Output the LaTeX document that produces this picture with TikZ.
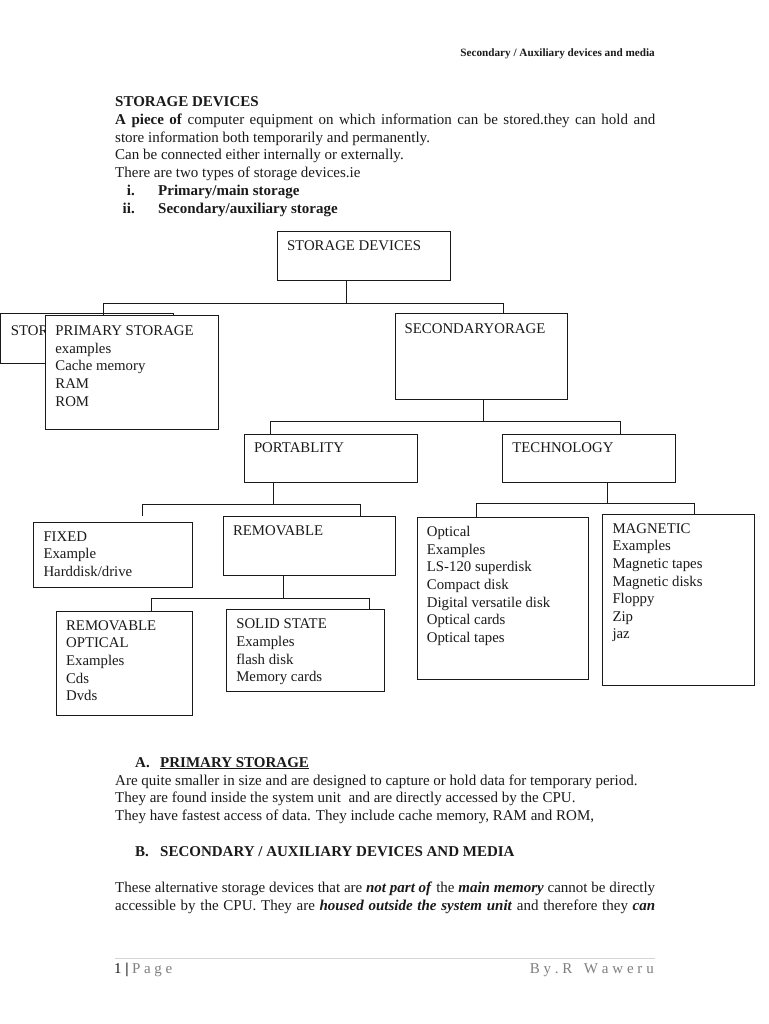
\documentclass[tikz,border=0pt]{standalone}
\usepackage{fontspec}
\setmainfont{Liberation Serif}
\usetikzlibrary{calc}
\definecolor{ink}{HTML}{1A1A1A}
\definecolor{footgray}{HTML}{7F7F7F}
\definecolor{rulegray}{HTML}{D4D4D4}
\newcommand{\Ln}[1]{\hbox{#1}}
\newcommand{\Stack}[1]{\vtop{\baselineskip=17.6pt\lineskiplimit=-20pt #1}}
\begin{document}
\begin{tikzpicture}[x=1pt,y=-1pt,
  box/.style={draw=ink, line width=0.9pt, fill=white, rectangle, inner sep=0pt, outer sep=0pt, anchor=north west},
  lbl/.style={anchor=base west, inner sep=0pt, text=ink, font=\fontsize{14.8}{17.6}\selectfont},
  txt/.style={anchor=base west, inner sep=0pt, text=ink, font=\fontsize{15}{17.6}\selectfont},
  conn/.style={draw=ink, line width=0.9pt}]
\useasboundingbox[fill=white] (0,0) rectangle (768,1024);

% header
\node[anchor=base east, inner sep=0pt, text=ink, font=\fontsize{11.2}{13}\selectfont\bfseries] (hdr) at (655,57) {Secondary / Auxiliary devices and media};

% intro text
\node[txt, font=\fontsize{15}{17.6}\selectfont\bfseries] (t1) at (115,107) {STORAGE DEVICES};
\node[txt] (t2) at (115,125) {\makebox[540pt][s]{\textbf{A piece of} computer equipment on which information can be stored.they can hold and}};
\node[txt] (t3) at (115,142.5) {store information both temporarily and permanently.};
\node[txt] (t4) at (115,160) {Can be connected either internally or externally.};
\node[txt] (t5) at (115,178) {There are two types of storage devices.ie};
\node[txt, anchor=base east] (n1) at (135,196) {\textbf{i.}};
\node[txt] (l1) at (158,196) {\textbf{Primary/main storage}};
\node[txt, anchor=base east] (n2) at (135,213.5) {\textbf{ii.}};
\node[txt] (l2) at (158,213.5) {\textbf{Secondary/auxiliary storage}};

% boxes
\node[box, minimum width=172.7pt, minimum height=48.6pt] (sd) at (277.3,231.7) {};
\node[box, minimum width=173pt, minimum height=49.6pt] (stor) at (0.5,313.7) {};
\node[lbl] (stort) at ([xshift=10.2pt,yshift=-22pt]stor.north west) {STOR};
\node[box, minimum width=172.6pt, minimum height=113.3pt] (prim) at (45.7,315.7) {};
\node[box, minimum width=172.7pt, minimum height=86pt] (sec) at (395,313.3) {};
\node[box, minimum width=173pt, minimum height=48.7pt] (port) at (244.3,434) {};
\node[box, minimum width=172.6pt, minimum height=48.7pt] (tech) at (502.7,434) {};
\node[box, minimum width=159pt, minimum height=65.4pt] (fixed) at (33.3,522.3) {};
\node[box, minimum width=171.7pt, minimum height=59pt] (rem) at (223.3,516.7) {};
\node[box, minimum width=135.6pt, minimum height=103.3pt] (ropt) at (56.7,611.7) {};
\node[box, minimum width=157.3pt, minimum height=81.7pt] (ss) at (226.7,609.3) {};
\node[box, minimum width=171.4pt, minimum height=162pt] (opt) at (417.3,517.3) {};
\node[box, minimum width=151.6pt, minimum height=170.7pt] (mag) at (602.7,514.3) {};

% box labels
\node[lbl] (sdt) at ([xshift=9.5pt,yshift=-19pt]sd.north west) {STORAGE DEVICES};
\node[lbl] (primt) at ([xshift=9.5pt,yshift=-20pt]prim.north west) {\Stack{\Ln{PRIMARY STORAGE}\Ln{examples}\Ln{Cache memory}\Ln{RAM}\Ln{ROM}}};
\node[lbl] (sect) at ([xshift=9.5pt,yshift=-20pt]sec.north west) {SECONDARYORAGE};
\node[lbl] (portt) at ([xshift=9.5pt,yshift=-18pt]port.north west) {PORTABLITY};
\node[lbl] (techt) at ([xshift=9.5pt,yshift=-18pt]tech.north west) {TECHNOLOGY};
\node[lbl] (fixedt) at ([xshift=10pt,yshift=-18.7pt]fixed.north west) {\Stack{\Ln{FIXED}\Ln{Example}\Ln{Harddisk/drive}}};
\node[lbl] (remt) at ([xshift=9.5pt,yshift=-19pt]rem.north west) {REMOVABLE};
\node[lbl] (roptt) at ([xshift=9.2pt,yshift=-18.5pt]ropt.north west) {\Stack{\Ln{REMOVABLE}\Ln{OPTICAL}\Ln{Examples}\Ln{Cds}\Ln{Dvds}}};
\node[lbl] (sst) at ([xshift=9.4pt,yshift=-19.5pt]ss.north west) {\Stack{\Ln{SOLID STATE}\Ln{Examples}\Ln{flash disk}\Ln{Memory cards}}};
\node[lbl] (optt) at ([xshift=9.4pt,yshift=-19.3pt]opt.north west) {\Stack{\Ln{Optical}\Ln{Examples}\Ln{LS-120 superdisk}\Ln{Compact disk}\Ln{Digital versatile disk}\Ln{Optical cards}\Ln{Optical tapes}}};
\node[lbl] (magt) at ([xshift=9.6pt,yshift=-19pt]mag.north west) {\Stack{\Ln{MAGNETIC}\Ln{Examples}\Ln{Magnetic tapes}\Ln{Magnetic disks}\Ln{Floppy}\Ln{Zip}\Ln{jaz}}};

% connectors
\draw[conn] ([xshift=69.4pt]sd.south west) -- ++(0,23) coordinate (j1);
\draw[conn] (j1) -| ([xshift=57.6pt]prim.north west);
\draw[conn] (j1) -| ([xshift=108.3pt]sec.north west);

\draw[conn] ([xshift=88.3pt]sec.south west) -- ++(0,22.4) coordinate (j2);
\draw[conn] (j2) -| ([xshift=26.4pt]port.north west);
\draw[conn] (j2) -| ([xshift=118pt]tech.north west);

\draw[conn] ([xshift=29pt]port.south west) -- ++(0,21.3) coordinate (j3);
\draw[conn] (j3) -| ([xshift=109pt,yshift=6.3pt]fixed.north west);
\draw[conn] (j3) -| ([xshift=136.7pt]rem.north west);

\draw[conn] ([xshift=105pt]tech.south west) -- ++(0,20.6) coordinate (j4);
\draw[conn] (j4) -| ([xshift=58.7pt]opt.north west);
\draw[conn] (j4) -| ([xshift=91.3pt]mag.north west);

\draw[conn] ([xshift=60pt]rem.south west) -- ++(0,22.6) coordinate (j5);
\draw[conn] (j5) -| ([xshift=94.3pt]ropt.north west);
\draw[conn] (j5) -| ([xshift=142.3pt]ss.north west);

% section A
\node[txt] (ha) at (135,767) {\textbf{A.}};
\node[txt] (hat) at (160,767) {\textbf{\underline{PRIMARY STORAGE}}};
\node[txt] (a1) at (115,785) {Are quite smaller in size and are designed to capture or hold data for temporary period.};
\node[txt] (a2) at (115,802.5) {They are found inside the system unit \ and are directly accessed by the CPU.};
\node[txt] (a3) at (115,820) {They have fastest access of data. They include cache memory, RAM and ROM,};

% section B
\node[txt] (hb) at (135,856) {\textbf{B.}};
\node[txt] (hbt) at (160,856) {\textbf{SECONDARY / AUXILIARY DEVICES AND MEDIA}};
\node[txt] (b1) at (115,892) {\makebox[540pt][s]{These alternative storage devices that are \textbf{\textit{not part of}} the \textbf{\textit{main memory}} cannot be directly}};
\node[txt] (b2) at (115,910) {\makebox[540pt][s]{accessible by the CPU. They are \textbf{\textit{housed outside the system unit}} and therefore they \textbf{\textit{can}}}};

% footer
\draw[draw=rulegray, line width=0.8pt] (115,958) coordinate (fl) -- (655,958) coordinate (fr);
\node[txt] (pg) at (114,973) {1 \textbf{|}};
\node[txt, text=footgray] (pgw) at (132,973) {\makebox[40pt][s]{P\hfill a\hfill g\hfill e}};
\node[txt, anchor=base east, text=footgray] (auth) at (654,973) {\makebox[124pt][s]{B\hfill y\hfill .\hfill R\hfill\hfill\hfill W\hfill a\hfill w\hfill e\hfill r\hfill u}};
\end{tikzpicture}
\end{document}
